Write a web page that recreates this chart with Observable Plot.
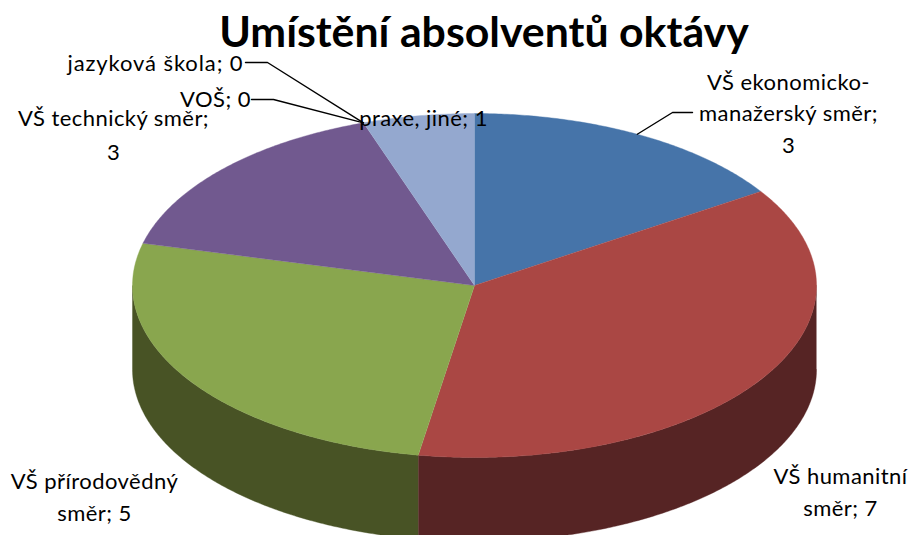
<!DOCTYPE html>
<html lang="cs">
<head>
<meta charset="utf-8">
<script src="https://cdn.jsdelivr.net/npm/d3@7"></script>
<script src="https://cdn.jsdelivr.net/npm/@observablehq/plot@0.6"></script>
<style>
html,body{margin:0;padding:0;background:#fff;overflow:hidden}
svg{display:block;overflow:hidden}
.lbl text{letter-spacing:.45px}
.lblw text{letter-spacing:.9px}
</style>
</head>
<body>
<div id="chart"></div>
<script>
// Data
const categories = ["VŠ ekonomicko-manažerský směr","VŠ humanitní směr","VŠ přírodovědný směr","VŠ technický směr","VOŠ","jazyková škola","praxe, jiné"];
const values = [3,7,5,3,0,0,1];
const topColors = ["#4674A9","#AA4744","#89A64E","#71598F","#71598F","#71598F","#94A8CF"];
const sideColors = ["#2A4566","#562424","#485325","#3B2E4B","#3B2E4B","#3B2E4B","#4F5A6F"];
const titleText = "Umístění absolventů oktávy";
const labelLines = ["VŠ ekonomicko-","manažerský směr;","3","VŠ humanitní","směr; 7","VŠ přírodovědný","směr; 5","VŠ technický směr;","3","VOŠ; 0","jazyková škola; 0","praxe, jiné; 1"];

// Layout (separate from the data)
const cx = 474, cy = 285, rx = 342, ry = 172, depth = 84;
const labelX = [788,788,788,840,840,94,94,113,113,215,155,423];
const labelY = [82,113,145,476,508,481,513,118,152,99,63,118];
const wideLabel = "jazyková škola; 0";
const leaderElbows = [
  {i:0, pts:[[672,112],[692,112]]},
  {i:4, pts:[[273,99],[251,99]]},
  {i:5, pts:[[267,62],[245,62]]}
];

const total = d3.sum(values);
const rad = d => d * Math.PI / 180;
const px = t => cx + rx * Math.sin(rad(t));
const py = t => cy - ry * Math.cos(rad(t));

let acc = 0;
const slices = values.map((v,i) => {
  const a0 = acc / total * 360; acc += v; const a1 = acc / total * 360;
  return {i, v, a0, a1, mid:(a0+a1)/2};
});

const arc = (a0,a1) => {
  const pts = [];
  const n = Math.max(2, Math.ceil((a1-a0)*2));
  for (let k=0;k<=n;k++) pts.push(a0 + (a1-a0)*k/n);
  return pts;
};

const topRows = slices.filter(s=>s.v>0).flatMap(s => [
  {x:cx,y:cy,color:topColors[s.i],key:s.i},
  ...arc(s.a0,s.a1).map(t=>({x:px(t),y:py(t),color:topColors[s.i],key:s.i}))
]);

const sideRows = slices.filter(s=>s.v>0).flatMap(s => {
  const a0 = Math.max(s.a0,90), a1 = Math.min(s.a1,270);
  if (a1 <= a0) return [];
  const ts = arc(a0,a1);
  return [
    ...ts.map(t=>({x:px(t),y:py(t),color:sideColors[s.i],key:s.i})),
    ...ts.slice().reverse().map(t=>({x:px(t),y:py(t)+depth,color:sideColors[s.i],key:s.i}))
  ];
});

const leaderRows = leaderElbows.flatMap(({i,pts}) => [
  {x:px(slices[i].mid),y:py(slices[i].mid),key:i},
  ...pts.map(([x,y])=>({x,y,key:i}))
]);

const labelRows = labelLines.map((t,i)=>({t,x:labelX[i],y:labelY[i]}));

const plot = Plot.plot({
  width:913, height:535,
  margin:0,
  x:{domain:[0,913],range:[0,913],axis:null},
  y:{domain:[0,535],range:[0,535],axis:null},
  marks:[
    Plot.line(sideRows,{x:"x",y:"y",z:"key",fill:"color",stroke:"color",strokeWidth:0.4}),
    Plot.line(topRows,{x:"x",y:"y",z:"key",fill:"color",stroke:"color",strokeWidth:0.4}),
    Plot.line(leaderRows,{x:"x",y:"y",z:"key",stroke:"#000",strokeWidth:1.4}),
    Plot.text(labelRows.filter(d=>d.t!==wideLabel),{x:"x",y:"y",text:"t",fontSize:22,fill:"#000",fontFamily:"Lato",textAnchor:"middle",className:"lbl"}),
    Plot.text(labelRows.filter(d=>d.t===wideLabel),{x:"x",y:"y",text:"t",fontSize:22,fill:"#000",fontFamily:"Lato",textAnchor:"middle",className:"lblw"}),
    Plot.text([titleText],{x:()=>483.5,y:()=>33,text:d=>d,fontSize:42.8,fontWeight:700,fontFamily:"Lato",fill:"#000",textAnchor:"middle"})
  ]
});
document.getElementById("chart").append(plot);
</script>
</body>
</html>
